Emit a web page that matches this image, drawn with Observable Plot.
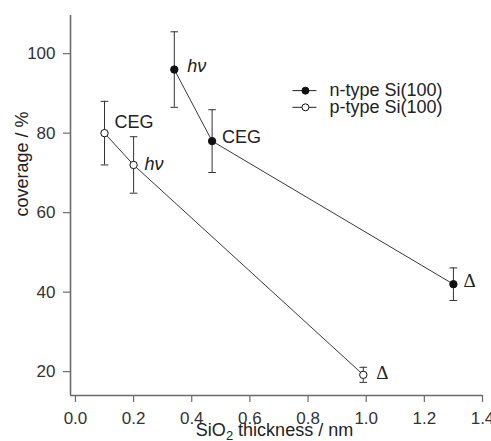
<!DOCTYPE html>
<html>
<head>
<meta charset="utf-8">
<script src="https://cdn.jsdelivr.net/npm/d3@7"></script>
<script src="https://cdn.jsdelivr.net/npm/@observablehq/plot@0.6"></script>
<style>
  html, body { margin: 0; padding: 0; background: #fff; }
  #chart { width: 491px; height: 441px; overflow: hidden; }
</style>
</head>
<body>
<div id="chart"></div>
<script>
// ---- data ----
const nX = [0.34, 0.47, 1.30];
const nY = [96, 78, 42];
const nErr = [9.5, 7.9, 4.1];
const nLabels = ["hν", "CEG", "Δ"];

const pX = [0.10, 0.20, 0.99];
const pY = [80, 72, 19.2];
const pErr = [8.0, 7.1, 1.9];
const pLabels = ["CEG", "hν", "Δ"];

const seriesNames = ["n-type Si(100)", "p-type Si(100)"];
const xTicks = [0.0, 0.2, 0.4, 0.6, 0.8, 1.0, 1.2, 1.4];
const yTicks = [20, 40, 60, 80, 100];
const xLabel = "SiO2 thickness / nm";
const yLabel = "coverage / %";

// ---- build rows ----
const rows = [];
nX.forEach((x, i) => rows.push({series: seriesNames[0], x, y: nY[i], err: nErr[i], label: nLabels[i], idx: i}));
pX.forEach((x, i) => rows.push({series: seriesNames[1], x, y: pY[i], err: pErr[i], label: pLabels[i], idx: i}));

// annotation offsets in px (styling only)
const labelOffsets = {
  [seriesNames[0]]: [[13, -3], [10, -4], [10, -3]],
  [seriesNames[1]]: [[10, -11], [11, -1], [13, -2]]
};
const fillFor = s => s === seriesNames[0] ? "#111" : "white";

const capSymbol = {draw(ctx) { ctx.moveTo(-3.8, 0); ctx.lineTo(3.8, 0); }};
const legendLine = {draw(ctx) { ctx.moveTo(-13, 0); ctx.lineTo(11, 0); }};

const xDomain = [-0.017, 1.4];
const yDomain = [14, 109.6];
const font = "'Liberation Sans', Arial, Helvetica, sans-serif";
const serif = "'Liberation Serif', 'Times New Roman', serif";
const axisColor = "#6b6b6b";

// legend placement (data coordinates, styling only)
const legendX = 0.791, legendTextX = 0.874, legendY = [90.7, 86.5];
const legendRows = seriesNames.map((s, i) => ({series: s, y: legendY[i]}));

const annotationMarks = rows.map(d => {
  const [dx, dy] = labelOffsets[d.series][d.idx];
  const opts = {x: "x", y: "y", text: "label", textAnchor: "start", dx, dy, fontSize: 18, fill: "#222"};
  if (d.label === "Δ") { opts.fontFamily = serif; opts.fontSize = 19; }
  if (d.label === "hν") { opts.fontStyle = "italic"; }
  return Plot.text([d], opts);
});

const chart = Plot.plot({
  width: 491,
  height: 441,
  marginLeft: 70,
  marginRight: 9,
  marginTop: 15,
  marginBottom: 46,
  style: {fontFamily: font, color: "#222", background: "white"},
  x: {domain: xDomain},
  y: {domain: yDomain},
  marks: [
    Plot.axisX({ticks: xTicks, tickFormat: d3.format(".1f"), tickSize: 7, tickPadding: 9, fontSize: 17,
      stroke: axisColor, strokeWidth: 1.2, color: "#333", label: null}),
    Plot.axisY({ticks: yTicks, tickSize: 7, tickPadding: 8, fontSize: 17,
      stroke: axisColor, strokeWidth: 1.2, color: "#333", label: null}),
    Plot.text([xLabel], {frameAnchor: "bottom", dx: -2, dy: 40.5, fontSize: 18, fill: "#222"}),
    Plot.text([yLabel], {frameAnchor: "left", rotate: -90, dx: -48.5, dy: 11, fontSize: 18, fill: "#222"}),
    Plot.ruleX([xDomain[0]], {stroke: axisColor, strokeWidth: 1.6}),
    Plot.ruleY([yDomain[0]], {stroke: axisColor, strokeWidth: 1.6}),
    // connecting lines
    Plot.line(rows, {x: "x", y: "y", z: "series", stroke: "#222", strokeWidth: 0.9}),
    // error bars
    Plot.ruleX(rows, {x: "x", y1: d => d.y - d.err, y2: d => d.y + d.err, stroke: "#333", strokeWidth: 1}),
    Plot.dot(rows, {x: "x", y: d => d.y + d.err, symbol: capSymbol, stroke: "#333", strokeWidth: 1, fill: "none"}),
    Plot.dot(rows, {x: "x", y: d => d.y - d.err, symbol: capSymbol, stroke: "#333", strokeWidth: 1, fill: "none"}),
    // markers
    Plot.dot(rows, {x: "x", y: "y", r: 3.7, stroke: "#111", strokeWidth: 1, fill: d => fillFor(d.series)}),
    // annotations
    ...annotationMarks,
    // legend
    Plot.dot(legendRows, {x: () => legendX, y: "y", symbol: legendLine, stroke: "#222", strokeWidth: 1}),
    Plot.dot(legendRows, {x: () => legendX, y: "y", r: 3.5, stroke: "#111", strokeWidth: 1, fill: d => fillFor(d.series)}),
    Plot.text(legendRows, {x: () => legendTextX, y: "y", text: "series", textAnchor: "start", fontSize: 18, fill: "#222"})
  ]
});

// proper subscript for SiO2 in the x-axis label
chart.querySelectorAll("text").forEach(t => {
  if (t.textContent === xLabel) {
    t.textContent = "";
    const ns = "http://www.w3.org/2000/svg";
    const a = document.createElementNS(ns, "tspan"); a.textContent = "SiO";
    const b = document.createElementNS(ns, "tspan"); b.textContent = "2";
    b.setAttribute("font-size", "13"); b.setAttribute("dy", "4");
    const c = document.createElementNS(ns, "tspan"); c.textContent = " thickness / nm";
    c.setAttribute("dy", "-4");
    t.append(a, b, c);
  }
});

document.getElementById("chart").append(chart);
</script>
</body>
</html>
